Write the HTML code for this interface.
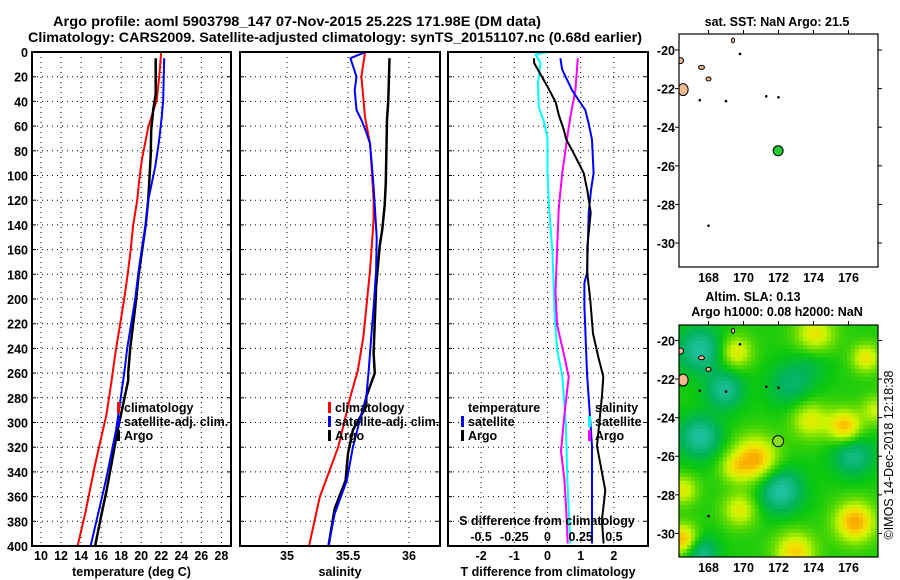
<!DOCTYPE html>
<html><head><meta charset="utf-8">
<style>
html,body{margin:0;padding:0;background:#fff;}
svg{display:block;font-family:"Liberation Sans",sans-serif;}
.b{font-weight:bold;font-size:12.5px;fill:#000;}
.t{font-weight:bold;font-size:14px;fill:#000;}
</style></head>
<body>
<svg id="fig" width="900" height="580" viewBox="0 0 900 580" xmlns="http://www.w3.org/2000/svg">
<text class="t" x="53" y="26" textLength="488" lengthAdjust="spacingAndGlyphs">Argo profile: aoml 5903798_147 07-Nov-2015 25.22S 171.98E (DM data)</text>
<text class="t" x="28" y="42" textLength="614" lengthAdjust="spacingAndGlyphs">Climatology: CARS2009. Satellite-adjusted climatology: synTS_20151107.nc (0.68d earlier)</text>
<g id="g1"></g>
<g id="g2"></g>
<g id="g3"></g>
<g id="m1"></g>
<g id="m2"></g>
<text x="893" y="455" transform="rotate(-90 893 455)" text-anchor="middle" font-size="12.5">©IMOS 14-Dec-2018 12:18:38</text>
</svg>
<script>
// ---- Depth ticks
const depthTicks = [0,20,40,60,80,100,120,140,160,180,200,220,240,260,280,300,320,340,360,380,400];
// ---- Temperature panel
const tempTicks = [10,12,14,16,18,20,22,24,26,28];
const tClimDepth = [0,20,39,61,88,104,120,140,160,180,200,220,240,260,266,293,334,374,400];
const tClimVal   = [22.0,21.8,21.55,20.7,20.05,19.8,19.6,19.2,18.95,18.65,18.3,17.9,17.5,17.15,17.05,16.55,15.4,14.4,13.65];
const tSatDepth  = [5,39,53,71,93,120,140,160,180,200,220,240,260,266,306,346,374,400];
const tSatVal    = [22.3,22.2,22.05,21.8,21.4,20.7,20.45,20.05,19.7,19.4,19.0,18.6,18.3,18.2,17.5,16.5,15.7,14.95];
const tArgoDepth = [5,34,47,63,84,106,120,140,160,180,200,220,240,260,266,306,333,355,374,400];
const tArgoVal   = [21.45,21.45,21.2,21.0,20.95,20.8,20.7,20.45,20.1,19.75,19.5,19.2,18.9,18.7,18.7,17.65,17.05,16.55,16.05,15.4];
// ---- Salinity panel
const salTicks = [35,35.5,36];
const sClimDepth = [0,20,53,74,88,120,136,150,177,207,231,258,279,320,360,400];
const sClimVal   = [35.64,35.61,35.64,35.68,35.69,35.71,35.71,35.70,35.68,35.65,35.625,35.58,35.52,35.42,35.27,35.18];
const sSatDepth  = [0,5,20,31,47,55,65,74,109,150,177,207,231,258,279,293,320,347,374,400];
const sSatVal    = [35.645,35.52,35.57,35.555,35.57,35.61,35.65,35.68,35.71,35.735,35.73,35.71,35.69,35.67,35.65,35.61,35.54,35.49,35.39,35.34];
const sArgoDepth = [5,39,55,106,125,144,157,168,190,244,260,268,279,287,306,325,347,370,400];
const sArgoVal   = [35.84,35.83,35.82,35.81,35.80,35.78,35.76,35.75,35.73,35.71,35.72,35.69,35.65,35.65,35.54,35.5,35.48,35.39,35.34];
// ---- Difference panel (T in degC, S in psu)
const tDiffTicks = [-2,-1,0,1,2];
const sDiffTicks = ["-0.5","-0.25","0","0.25","0.5"];
const dTArgoDepth = [5,9,28,41,51,63,71,82,98,112,130,158,179,201,228,247,263,279,319,355,379,398];
const dTArgoVal   = [-0.41,-0.4,0,0.25,0.34,0.49,0.57,0.79,1.09,1.2,1.3,1.2,1.2,1.29,1.37,1.53,1.68,1.64,1.49,1.74,1.64,1.69];
const dTSatDepth  = [5,14,31,47,58,71,98,112,130,152,179,187,206,260,319,398];
const dTSatVal    = [0.39,0.44,0.74,1.14,1.24,1.34,1.39,1.31,1.24,1.22,1.19,1.11,1.11,1.19,1.34,1.34];
const dSSatDepth  = [0,2,9,25,45,56,70,98,127,162,216,243,263,301,347,398];
const dSSatVal    = [0.01,-0.09,-0.052,-0.072,-0.065,-0.028,0,0,0.012,0.038,0.055,0.075,0.112,0.138,0.15,0.172];
const dSArgoDepth = [5,31,45,61,80,99,126,159,194,221,247,263,293,323,347,374,398];
const dSArgoVal   = [0.228,0.21,0.185,0.16,0.135,0.11,0.085,0.072,0.06,0.072,0.128,0.16,0.128,0.102,0.128,0.142,0.152];
// ---- Map
const lonTicks = [168,170,172,174,176];
const latTicks = [-20,-22,-24,-26,-28,-30];
const argoLon = 171.98, argoLat = -25.22;

const NS='http://www.w3.org/2000/svg';
function el(tag, attrs, parent){const e=document.createElementNS(NS,tag);for(const k in attrs)e.setAttribute(k,attrs[k]);parent.appendChild(e);return e;}
function txt(s, attrs, parent){const e=el('text',attrs,parent);e.textContent=s;return e;}

const Y0=52, Y1=546;
const yD = d => Y0 + d*(Y1-Y0)/400;

function panel(g, x0, x1, xs, ticks, tickLabels, title, name){
  ticks.forEach((v,i)=>{
    const l=el('line',{x1:xs(v),x2:xs(v),y1:Y0,y2:Y1,stroke:'#000','stroke-width':1,'stroke-dasharray':'1,4'},g);
    
    
  });
  depthTicks.forEach(d=>{
    const l=el('line',{x1:x0,x2:x1,y1:yD(d),y2:yD(d),stroke:'#000','stroke-width':1,'stroke-dasharray':'1,4'},g);
    
    
  });
  if(tickLabels){
    ticks.forEach((v,i)=>{
      const t=txt(String(tickLabels[i]),{class:'b',x:xs(v),y:560,'text-anchor':'middle'},g);
      
      
    });
  }
  const tt=txt(title,{class:'b',x:(x0+x1)/2,y:576,'text-anchor':'middle'},g);
  
  
}
function frame(g,x0,x1,name){
  const r=el('rect',{x:x0,y:Y0,width:x1-x0,height:Y1-Y0,fill:'none',stroke:'#000','stroke-width':2},g);
  
  
  depthTicks.forEach(d=>{
    el('line',{x1:x0,x2:x0+4,y1:yD(d),y2:yD(d),stroke:'#000'},g);
    el('line',{x1:x1-4,x2:x1,y1:yD(d),y2:yD(d),stroke:'#000'},g);
  });
}
function series(g, depths, vals, xs, color, w, name){
  const pts=depths.map((d,i)=>xs(vals[i]).toFixed(1)+','+yD(d).toFixed(1)).join(' ');
  const p=el('polyline',{points:pts,fill:'none',stroke:color,'stroke-width':w,'stroke-linejoin':'round'},g);
  
  
}
function legend(g, x, y, color, label, name){
  if(color){ el('rect',{x:x,y:y-10,width:3,height:11,fill:color},g); }
  const t=txt(label,{class:'b',x:x+7,y:y},g);
  
  
}

const g1=document.getElementById('g1');
depthTicks.forEach(d=>{
  const t=txt(String(d),{class:'b',x:28,y:yD(d)+5,'text-anchor':'end'},g1);
  
  
});

const xT = v => 41 + (v-10)*10.02;
panel(g1,32,231,xT,tempTicks,tempTicks,'temperature (deg C)','temp');
series(g1,tClimDepth,tClimVal,xT,'#ff0000',2,'temp-climatology-line');
series(g1,tArgoDepth,tArgoVal,xT,'#000',2.5,'temp-argo-line');
series(g1,tSatDepth,tSatVal,xT,'#0000ff',2,'temp-satellite-line');
frame(g1,32,231,'temp');
legend(g1,117,412,'#ff0000','climatology','temp-legend-climatology');
legend(g1,117,426,'#0000ff','satellite-adj. clim.','temp-legend-satellite');
legend(g1,117,440,'#000','Argo','temp-legend-argo');

const g2=document.getElementById('g2');
const xS = v => 287 + (v-35)*122;
panel(g2,240,440,xS,salTicks,salTicks,'salinity','sal');
series(g2,sClimDepth,sClimVal,xS,'#ff0000',2,'sal-climatology-line');
series(g2,sArgoDepth,sArgoVal,xS,'#000',2.5,'sal-argo-line');
series(g2,sSatDepth,sSatVal,xS,'#0000ff',2,'sal-satellite-line');
frame(g2,240,440,'sal');
legend(g2,328,412,'#ff0000','climatology','sal-legend-climatology');
legend(g2,328,426,'#0000ff','satellite-adj. clim.','sal-legend-satellite');
legend(g2,328,440,'#000','Argo','sal-legend-argo');

const g3=document.getElementById('g3');
const xD = v => 547.5 + v*33.2;
const xDS = v => 547.5 + v*4*33.2;
panel(g3,448,648,xD,tDiffTicks,tDiffTicks,'T difference from climatology','diff');
series(g3,dSSatDepth,dSSatVal,xDS,'#00ffff',2,'diff-salinity-satellite-line');
series(g3,dSArgoDepth,dSArgoVal,xDS,'#ff00ff',2,'diff-salinity-argo-line');
series(g3,dTSatDepth,dTSatVal,xD,'#0000ff',2,'diff-temperature-satellite-line');
series(g3,dTArgoDepth,dTArgoVal,xD,'#000',2,'diff-temperature-argo-line');
frame(g3,448,648,'diff');
legend(g3,461,412,null,'temperature','diff-legend-temperature-title');
legend(g3,461,426,'#0000ff','satellite','diff-legend-temp-satellite');
legend(g3,461,440,'#000','Argo','diff-legend-temp-argo');
legend(g3,588,412,null,'salinity','diff-legend-salinity-title');
legend(g3,588,426,'#00ffff','satellite','diff-legend-sal-satellite');
legend(g3,588,440,'#ff00ff','Argo','diff-legend-sal-argo');
{
  const t=txt('S difference from climatology',{class:'b',x:547,y:525,'text-anchor':'middle'},g3);
  
  
  sDiffTicks.forEach((s,i)=>{
    const tl=txt(s,{class:'b',x:xDS(parseFloat(s)),y:541,'text-anchor':'middle'},g3);
    
    
  });
}

function islands(g, lx, ly){
  const shapes=[[166.55,-22.05,5,6],[167.6,-20.9,3,2],[168.0,-21.5,2.5,2],[169.4,-19.5,1.5,2.5],[166.4,-20.55,3,3]];
  shapes.forEach(s=>{
    const e=el('ellipse',{cx:lx(s[0]),cy:ly(s[1]),rx:s[2],ry:s[3],fill:'#f5b98c',stroke:'#000','stroke-width':1},g);
    
    
  });
  [[167.5,-22.6],[169.8,-20.2],[168.0,-29.1],[169.0,-22.65],[171.3,-22.4],[172.0,-22.45]].forEach(p=>el('circle',{cx:lx(p[0]),cy:ly(p[1]),r:1.3,fill:'#000'},g));
}
function drawMap(g, x0, y0, x1, y1, latTop, name, bgFn){
  const lx = lon => 778.5 + (lon-172)*17.5;
  const ly = lat => y0 + (latTop-lat)*19.3;
  const cp=el('clipPath',{id:'clip'+name},g);
  el('rect',{x:x0,y:y0,width:x1-x0,height:y1-y0},cp);
  const inner=el('g',{'clip-path':'url(#clip'+name+')'},g);
  if(bgFn) bgFn(inner);
  islands(inner,lx,ly);
  const r=el('rect',{x:x0,y:y0,width:x1-x0,height:y1-y0,fill:'none',stroke:'#000','stroke-width':1.2},g);
  
  
  lonTicks.forEach(lon=>{
    el('line',{x1:lx(lon),x2:lx(lon),y1:y0-4,y2:y0,stroke:'#000'},g);
    const t=txt(String(lon),{class:'b',x:lx(lon),y:y1+15,'text-anchor':'middle'},g);
    
    
  });
  latTicks.forEach(lat=>{
    el('line',{x1:x0-4,x2:x0,y1:ly(lat),y2:ly(lat),stroke:'#000'},g);
    el('line',{x1:x1,x2:x1+4,y1:ly(lat),y2:ly(lat),stroke:'#000'},g);
    const t=txt(String(lat),{class:'b',x:x0-4,y:ly(lat)+5,'text-anchor':'end'},g);
    
    
  });
  return {lx,ly};
}
const m1=document.getElementById('m1');
{
  const {lx,ly}=drawMap(m1,679,34,878,267,-19.17,'sst',null);
  const c=el('circle',{cx:lx(argoLon),cy:ly(argoLat),r:5,fill:'#22cc33',stroke:'#000','stroke-width':1},m1);
  
  
  const t=txt('sat. SST: NaN Argo: 21.5',{class:'b',x:777,y:26,'text-anchor':'middle'},m1);
  
  
}
const m2=document.getElementById('m2');
const blobs=[[700,350,-1.2,16],[725,390,-1.1,13],[700,437,-1.2,15],[780,490,-1.3,16],[853,455,-1.0,15],[700,552,-1.1,12],[790,385,-0.7,16],[812,362,-0.4,14],
 [736,352,1.1,11],[815,335,1.1,14],[866,358,1.1,10],[755,460,1.6,16],[733,468,0.6,10],[810,420,1.0,13],[845,427,1.5,12],[876,410,0.8,10],
 [740,510,1.0,12],[855,522,1.6,14],[683,540,1.6,11],[683,490,1.0,10],[795,552,1.3,14]];
function col(v){
  const stops=[[-1.2,[32,192,160]],[-0.6,[0,180,90]],[-0.1,[10,200,15]],[0.4,[110,222,0]],[0.8,[200,245,0]],[1.15,[245,225,0]],[1.5,[250,175,0]]];
  if(v<=stops[0][0]) return 'rgb('+stops[0][1]+')';
  for(let i=1;i<stops.length;i++){ if(v<=stops[i][0]){const a=stops[i-1],b=stops[i];const f=(v-a[0])/(b[0]-a[0]);return 'rgb('+a[1].map((c,k)=>Math.round(c+(b[1][k]-c)*f)).join(',')+')';}}
  return 'rgb('+stops[stops.length-1][1]+')';
}
{
  const {lx,ly}=drawMap(m2,679,325,878,557,-19.2,'sla',function(inner){
    const cs=4;
    for(let y=325;y<557;y+=cs){for(let x=679;x<878;x+=cs){
      let v=0;blobs.forEach(b=>{const dx=x+2-b[0],dy=y+2-b[1];v+=b[2]*Math.exp(-(dx*dx+dy*dy)/(2*b[3]*b[3]));});
      el('rect',{x:x,y:y,width:cs,height:cs,fill:col(v)},inner);
    }}
  });
  const c=el('circle',{cx:lx(argoLon),cy:ly(argoLat),r:5.5,fill:'#88dd22',stroke:'#000','stroke-width':1},m2);
  
  
  const t1=txt('Altim. SLA: 0.13',{class:'b',x:753,y:301,'text-anchor':'middle'},m2);
  
  
  const t2=txt('Argo h1000: 0.08 h2000: NaN',{class:'b',x:777,y:316,'text-anchor':'middle'},m2);
  
  
}
</script>
</body></html>
